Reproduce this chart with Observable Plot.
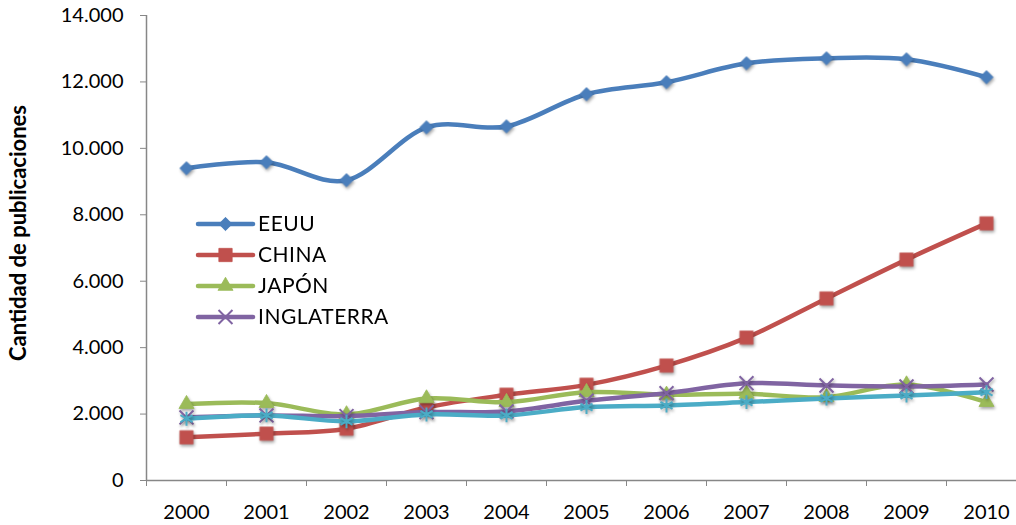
<!DOCTYPE html>
<html>
<head>
<meta charset="utf-8">
<script src="https://cdn.jsdelivr.net/npm/d3@7"></script>
<script src="https://cdn.jsdelivr.net/npm/@observablehq/plot@0.6"></script>
<style>
  html, body { margin: 0; padding: 0; background: #fff; }
  #chart { position: relative; width: 1016px; height: 525px; font-family: Lato, "Open Sans", sans-serif; }
  #chart svg { display: block; }
  #chart g[aria-label="dot"] { filter: drop-shadow(1px 2px 1.5px rgba(0,0,0,0.35)); }
  #legend { position: absolute; left: 0; top: 0; pointer-events: none; }
</style>
</head>
<body>
<div id="chart"></div>
<script>
// Publicaciones por año y país
const years = [2000, 2001, 2002, 2003, 2004, 2005, 2006, 2007, 2008, 2009, 2010];
const eeuu = [9400, 9580, 9040, 10630, 10660, 11630, 11990, 12560, 12710, 12680, 12140];
const china = [1300, 1410, 1560, 2200, 2580, 2880, 3460, 4300, 5480, 6650, 7740];
const japon = [2300, 2330, 1990, 2470, 2360, 2660, 2580, 2610, 2510, 2890, 2360];
const inglaterra = [1900, 1960, 1940, 2060, 2080, 2400, 2630, 2930, 2860, 2830, 2890];
const otro = [1860, 1960, 1780, 1990, 1960, 2210, 2260, 2360, 2470, 2560, 2660];
const yTicks = [0, 2000, 4000, 6000, 8000, 10000, 12000, 14000];
const yLabel = "Cantidad de publicaciones";

// name, values, colour, symbol, radius, shown in legend
const series = [
  {name: "EEUU", values: eeuu, color: "#4a7ebb", symbol: "diamond2", r: 6, legend: true},
  {name: "CHINA", values: china, color: "#c0504d", symbol: "square", r: 7.5, legend: true},
  {name: "JAPÓN", values: japon, color: "#9bbb59", symbol: "triangle", r: 5.6, legend: true},
  {name: "INGLATERRA", values: inglaterra, color: "#8064a2", symbol: "times", r: 6.4, legend: true},
  {name: "OTRO", values: otro, color: "#4bacc6", symbol: "asterisk", r: 6.6, legend: false}
];

const rows = series.flatMap(s => years.map((y, i) => ({serie: s.name, year: y, value: s.values[i]})));

const esLocale = d3.formatLocale({decimal: ",", thousands: ".", grouping: [3], currency: ["", " €"]});
const fmt = esLocale.format(",");

const xDomain = [years[0] - 0.5, years[years.length - 1] + 0.5];
const bounds = d3.range(xDomain[0], xDomain[1] + 0.01, 1);

const marks = [
  Plot.ruleY([0], {stroke: "#878787", strokeWidth: 1.5}),
  Plot.ruleX([xDomain[0]], {stroke: "#878787", strokeWidth: 1.5}),
  Plot.axisY({ticks: yTicks, tickFormat: fmt, tickSize: 6, tickPadding: 17, stroke: "#878787",
    fontSize: 20, fill: "#000", label: null}),
  Plot.axisX({ticks: bounds, tickFormat: () => "", tickSize: 6, stroke: "#878787", label: null}),
  Plot.axisX({ticks: years, tickFormat: d => String(d), tickSize: 0, tickPadding: 24,
    fontSize: 20, fill: "#000", label: null}),
  Plot.text([yLabel], {frameAnchor: "left", textAnchor: "middle", rotate: -90, dx: -128, dy: -15,
    fontSize: 22, fontWeight: "bold", fill: "#000"})
];

for (const s of series) {
  const data = rows.filter(d => d.serie === s.name);
  marks.push(Plot.line(data, {x: "year", y: "value", stroke: s.color, strokeWidth: 4.5, curve: "cardinal"}));
  const stroked = s.symbol === "times" || s.symbol === "asterisk";
  marks.push(Plot.dot(data, {x: "year", y: "value", symbol: () => s.symbol, r: s.r,
    fill: stroked ? "none" : s.color, stroke: s.color, strokeWidth: stroked ? 2 : 0.8}));
}

const chart = Plot.plot({
  width: 1016,
  height: 525,
  marginLeft: 146,
  marginRight: 0,
  marginTop: 15,
  marginBottom: 45,
  style: {fontFamily: "Lato, 'Open Sans', sans-serif", background: "#fff"},
  x: {type: "linear", domain: xDomain, range: [146, 1026]},
  y: {domain: [0, 14000]},
  symbol: {type: "identity"},
  marks
});
document.getElementById("chart").appendChild(chart);

// Legend: line + marker + name
const legendX = 198, legendY0 = 224, legendRow = 31, legendLen = 55;
const symbolTypes = {diamond2: d3.symbolDiamond2, square: d3.symbolSquare, triangle: d3.symbolTriangle,
  times: d3.symbolTimes, asterisk: d3.symbolAsterisk};
const legend = d3.select("#chart").append("svg").attr("id", "legend").attr("width", 1016).attr("height", 525);
series.filter(s => s.legend).forEach((s, i) => {
  const g = legend.append("g").attr("transform", `translate(${legendX},${legendY0 + i * legendRow})`);
  g.append("line").attr("x1", 0).attr("x2", legendLen).attr("stroke", s.color)
    .attr("stroke-width", 4.5).attr("stroke-linecap", "round");
  const stroked = s.symbol === "times" || s.symbol === "asterisk";
  g.append("path").attr("transform", `translate(${legendLen / 2},0)`)
    .attr("d", d3.symbol(symbolTypes[s.symbol], Math.PI * s.r * s.r)())
    .attr("fill", stroked ? "none" : s.color).attr("stroke", s.color).attr("stroke-width", stroked ? 2 : 0.8);
  g.append("text").attr("x", legendLen + 5).attr("dy", "0.35em").attr("font-size", 21)
    .attr("letter-spacing", "0.5px")
    .attr("font-family", "Lato, 'Open Sans', sans-serif").attr("fill", "#000").text(s.name);
});
</script>
</body>
</html>
